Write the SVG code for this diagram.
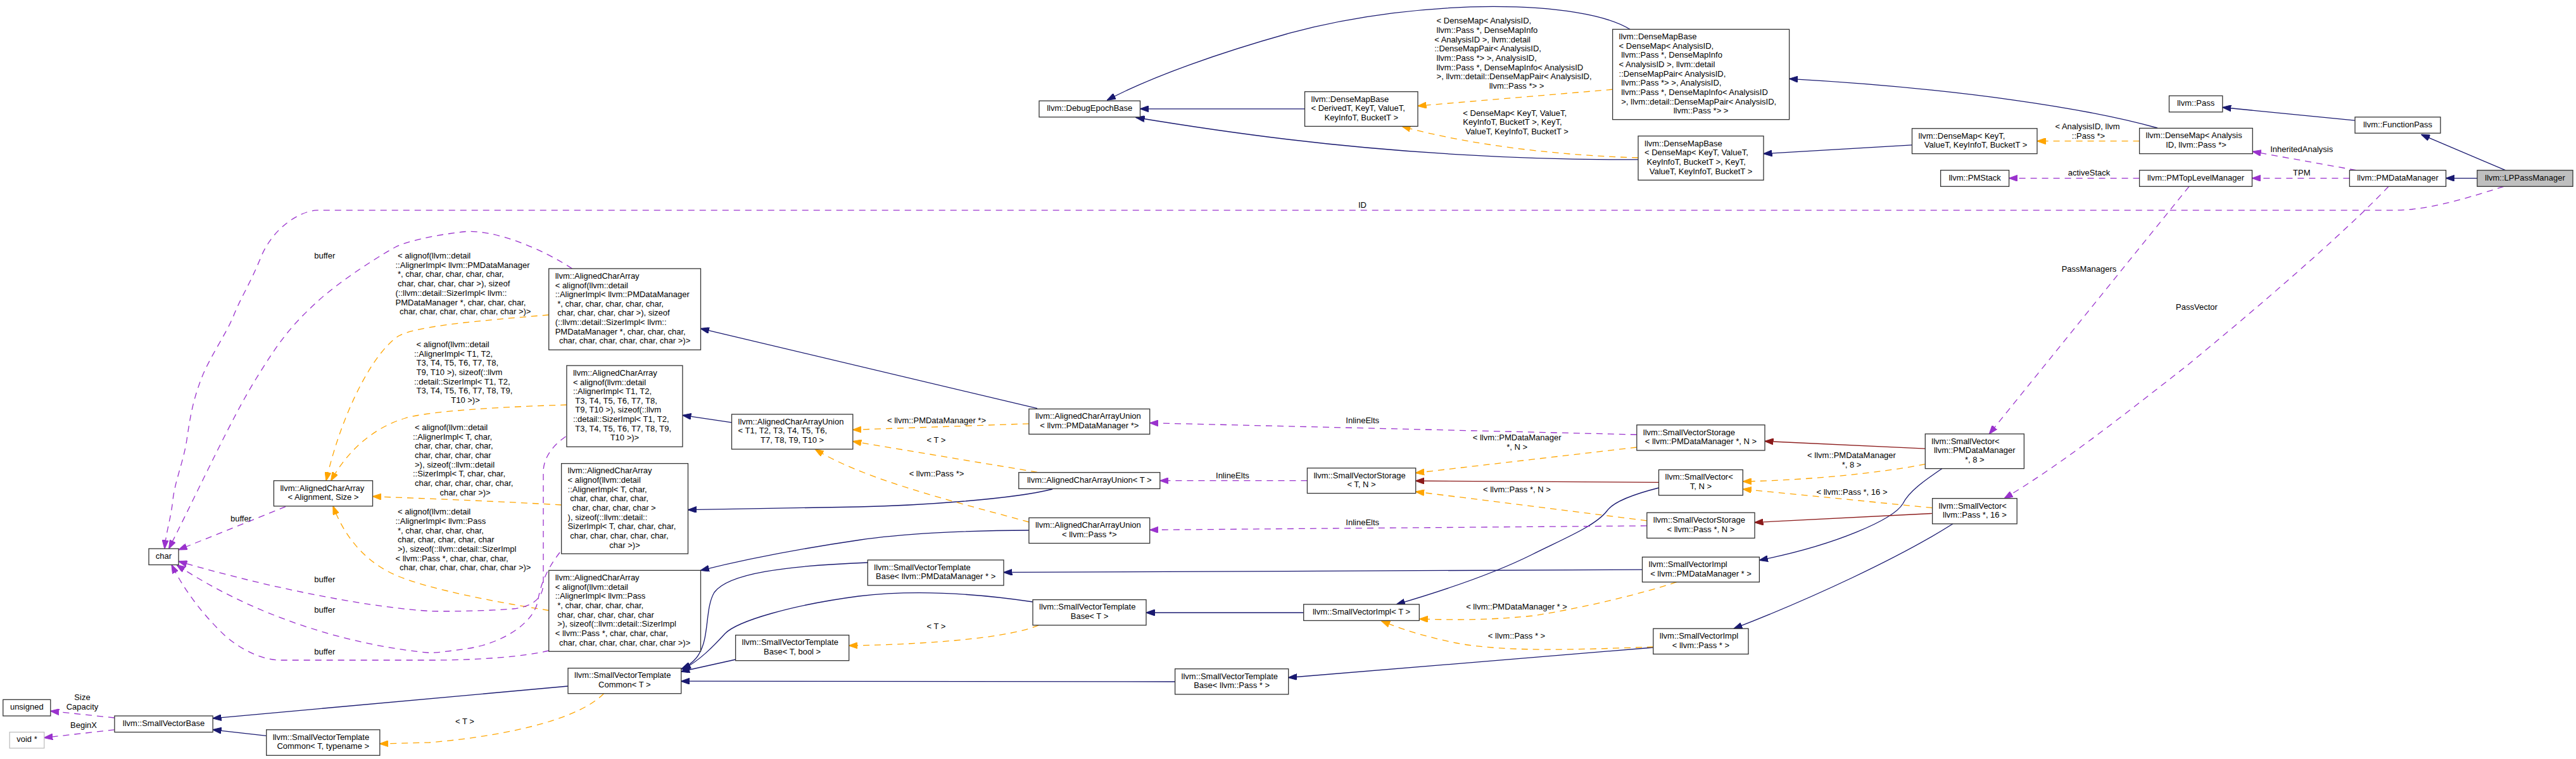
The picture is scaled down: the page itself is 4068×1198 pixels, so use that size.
<svg xmlns="http://www.w3.org/2000/svg" width="4068" height="1198" viewBox="0 0 4068 1198">
<style>
text{font-family:"Liberation Sans",Arial,Helvetica,sans-serif;font-size:13px;fill:#000;white-space:pre}
.m{text-anchor:middle}
.n rect{fill:#fff;stroke:#333;stroke-width:1.3}
.root rect{fill:#bfbfbf}
.ext rect{stroke:#bfbfbf}
#edges path{fill:none;stroke-width:1.3}
.inh{stroke:#191970;marker-end:url(#ah-inh)}
.prv{stroke:#8b1a1a;marker-end:url(#ah-prv)}
.use{stroke:#9a32cd;stroke-dasharray:10,8;marker-end:url(#ah-use)}
.tpl{stroke:#ffa500;stroke-dasharray:10,8;marker-end:url(#ah-tpl)}
</style>
<defs>
<marker id="ah-inh" viewBox="0 0 14 10" refX="13.5" refY="5" markerWidth="14" markerHeight="10" markerUnits="userSpaceOnUse" orient="auto"><path d="M0,0L14,5L0,10z" fill="#191970" stroke="#191970" stroke-dasharray="none"/></marker>
<marker id="ah-prv" viewBox="0 0 14 10" refX="13.5" refY="5" markerWidth="14" markerHeight="10" markerUnits="userSpaceOnUse" orient="auto"><path d="M0,0L14,5L0,10z" fill="#8b1a1a" stroke="#8b1a1a" stroke-dasharray="none"/></marker>
<marker id="ah-use" viewBox="0 0 14 10" refX="13.5" refY="5" markerWidth="14" markerHeight="10" markerUnits="userSpaceOnUse" orient="auto"><path d="M0,0L14,5L0,10z" fill="#9a32cd" stroke="#9a32cd" stroke-dasharray="none"/></marker>
<marker id="ah-tpl" viewBox="0 0 14 10" refX="13.5" refY="5" markerWidth="14" markerHeight="10" markerUnits="userSpaceOnUse" orient="auto"><path d="M0,0L14,5L0,10z" fill="#ffa500" stroke="#ffa500" stroke-dasharray="none"/></marker>
</defs>
<rect x="0" y="0" width="4068" height="1198" fill="#fff"/>

<g id="edges">
<path class="inh" d="M3956.4,268.7 L3823.7,212.4"/>
<path class="inh" d="M3912,281.3 L3862.6,281.3"/>
<path class="inh" d="M3719,190.2 L3509.8,169.5"/>
<path class="inh" d="M3407,202 C3300,172 3100,140 2825.6,124.4"/>
<path class="inh" d="M3019.5,228.8 L2785,242.6"/>
<path class="inh" d="M2574,46.3 C2500,0 2250,-5 2036,52.4 C1930,82 1820,120 1748.5,158"/>
<path class="inh" d="M2060.5,171.8 L1800.5,171.8"/>
<path class="inh" d="M2587,251.8 C2400,253 2200,240 2034,220 C1950,210 1870,198 1794,185.5"/>
<path class="inh" d="M1638,644.7 L1106.5,518.6"/>
<path class="inh" d="M1155.5,666.9 L1077.9,655.4"/>
<path class="inh" d="M1662,772 C1600,788 1450,798 1356,800 L1086.5,804.7"/>
<path class="inh" d="M1625,837 C1520,837 1420,843 1356,852.5 C1250,868 1180,882 1106.5,900.3"/>
<path class="inh" d="M1370.3,888 C1240,893 1150,905 1128,935 C1112,962 1122,1010 1100,1038 Q1090,1050 1076,1056"/>
<path class="inh" d="M1631,950 C1550,938 1450,930 1356,941 C1250,955 1165,980 1145,1000 C1125,1022 1105,1042 1078,1057"/>
<path class="inh" d="M1161.6,1041 L1075.7,1060"/>
<path class="inh" d="M1855.6,1076 L1075.7,1075.2"/>
<path class="inh" d="M897,1083 L336.1,1133.8"/>
<path class="inh" d="M420.7,1161.3 L336.1,1151.8"/>
<path class="inh" d="M2593.5,899.2 L1585,903.4"/>
<path class="inh" d="M2058.7,967 L1810,967"/>
<path class="inh" d="M2610.8,1022 L2034.7,1069.5"/>
<path class="inh" d="M2619.5,770 C2580,780 2548,792 2538,806 C2520,830 2470,850 2420,875 C2360,905 2280,932 2205.3,953.9"/>
<path class="inh" d="M3066.8,739.6 C3040,758 3015,775 3005,795 C2990,820 2900,860 2778.4,884.3"/>
<path class="inh" d="M3084,826.8 C3000,880 2860,945 2738,992.2"/>
<path class="prv" d="M2619.5,761.4 L2235.7,759"/>
<path class="prv" d="M3040.3,708.2 L2787,696.4"/>
<path class="prv" d="M3051.6,810.4 L2771,824.6"/>
<path class="tpl" d="M3378.6,222.7 L3217,222.7"/>
<path class="tpl" d="M2546.6,141.2 L2239,167.2"/>
<path class="tpl" d="M2587,249 C2480,246 2330,232 2214,199.4"/>
<path class="tpl" d="M866.7,497 C760,506 660,514 630,530 C590,555 540,650 515,758.7"/>
<path class="tpl" d="M894.9,639 C800,642 680,648 640,660 C590,675 550,710 522.6,758.7"/>
<path class="tpl" d="M886.6,797 C800,792 700,788 588.5,783.6"/>
<path class="tpl" d="M866.7,963.5 C780,950 680,930 630,910 C580,890 545,850 526,798.9"/>
<path class="tpl" d="M1624.9,668.8 L1346.8,678.4"/>
<path class="tpl" d="M1638,745.3 L1346.8,696.7"/>
<path class="tpl" d="M1624.9,824 C1500,790 1360,755 1287.3,709"/>
<path class="tpl" d="M1640,986.8 C1600,1005 1480,1017 1340.7,1019"/>
<path class="tpl" d="M953.4,1094.7 C920,1130 820,1160 678,1172 L599.8,1174"/>
<path class="tpl" d="M2584.8,706 L2235.7,746.5"/>
<path class="tpl" d="M2600.8,821.9 L2235.7,776"/>
<path class="tpl" d="M3040.3,732.7 C2960,748 2850,758 2752.3,760"/>
<path class="tpl" d="M3051.6,801.6 L2752.3,772"/>
<path class="tpl" d="M2647.7,918.7 C2600,935 2500,960 2420,972 C2340,980 2290,978 2241.3,977"/>
<path class="tpl" d="M2610.8,1021 C2500,1025 2380,1030 2300,1015 C2250,1005 2210,992 2181.5,980"/>
<path class="use" d="M3720.8,268.7 L3557.3,239.2"/>
<path class="use" d="M3710.4,281.3 L3556.5,281.3"/>
<path class="use" d="M3378.6,281.3 L3172.6,281.3"/>
<path class="use" d="M3457,294.3 L3141.4,684.9"/>
<path class="use" d="M3772,294.3 C3700,370 3560,490 3450,580 C3360,650 3260,730 3165.2,786.7"/>
<path class="use" d="M3954,294.3 C3880,318 3830,331.8 3780,331.8 L500,331.8 C470,334 430,362 412,406 S380,470 369,498 S330,565 317,600 S300,660 295,694 S276,760 273,789 S262,840 260,866"/>
<path class="use" d="M903.5,424 C860,395 780,360 730,366 C680,372 640,382 624.5,390 S540,440 499,478 S440,540 403,600 S320,760 266.7,866"/>
<path class="use" d="M451,799.7 L282,867.8"/>
<path class="use" d="M893.5,689 C870,705 858,725 858,745 L858,920 C858,945 840,958 810,961 C760,965 700,965 680,964.6 C600,960 450,935 282,886"/>
<path class="use" d="M884,872 C870,890 855,915 850,945 C845,985 790,1015 743,1023 C710,1028 690,1030 680,1030.5 C580,1022 420,985 279,891.5"/>
<path class="use" d="M866.7,1027 C830,1036 760,1042 680,1042 L440,1042 C410,1040 380,1025 355,1003 C320,970 290,930 271,891.5"/>
<path class="use" d="M2584.8,686 L1815.7,667.6"/>
<path class="use" d="M2064.4,758.7 L1831.8,758.7"/>
<path class="use" d="M2600.8,829.9 L1815.7,836.4"/>
<path class="use" d="M180.9,1133 L79.8,1122.3"/>
<path class="use" d="M180.9,1151.8 L69.8,1164.4"/>
</g>

<g id="edge-labels">
<text class="m" x="3634.7" y="240">InheritedAnalysis</text>
<text class="m" x="3634.8" y="277">TPM</text>
<text class="m" x="3469" y="489">PassVector</text>
<text class="m" x="2151.5" y="328">ID</text>
<text x="3245.4" y="203.5">&lt; AnalysisID, llvm</text>
<text class="m" x="3298" y="218.8">::Pass *&gt;</text>
<text class="m" x="3299" y="277">activeStack</text>
<text class="m" x="3299" y="429.3">PassManagers</text>
<text x="2268.6" y="37">&lt; DenseMap&lt; AnalysisID,</text>
<text x="2268.6" y="52">llvm::Pass *, DenseMapInfo</text>
<text x="2265.2" y="66.5">&lt; AnalysisID &gt;, llvm::detail</text>
<text x="2265.2" y="81">::DenseMapPair&lt; AnalysisID,</text>
<text x="2268.6" y="96">llvm::Pass *&gt; &gt;, AnalysisID,</text>
<text x="2268.6" y="110.5">llvm::Pass *, DenseMapInfo&lt; AnalysisID</text>
<text x="2268.6" y="125">&gt;, llvm::detail::DenseMapPair&lt; AnalysisID,</text>
<text class="m" x="2395" y="139.5">llvm::Pass *&gt; &gt;</text>
<text x="2310.3" y="182.8">&lt; DenseMap&lt; KeyT, ValueT,</text>
<text x="2310.3" y="197">KeyInfoT, BucketT &gt;, KeyT,</text>
<text class="m" x="2395.6" y="211.9">ValueT, KeyInfoT, BucketT &gt;</text>
<text class="m" x="512.8" y="408.2">buffer</text>
<text x="628" y="408.2">&lt; alignof(llvm::detail</text>
<text x="624.5" y="422.8">::AlignerImpl&lt; llvm::PMDataManager</text>
<text x="628" y="437.3">*, char, char, char, char, char,</text>
<text x="628" y="452.2">char, char, char, char &gt;), sizeof</text>
<text x="624.5" y="467.2">(::llvm::detail::SizerImpl&lt; llvm::</text>
<text x="624.5" y="481.7">PMDataManager *, char, char, char,</text>
<text class="m" x="734.7" y="496.3">char, char, char, char, char, char &gt;)&gt;</text>
<text x="657.5" y="547.9">&lt; alignof(llvm::detail</text>
<text x="654" y="562.6">::AlignerImpl&lt; T1, T2,</text>
<text x="657.5" y="577.2">T3, T4, T5, T6, T7, T8,</text>
<text x="657.5" y="591.9">T9, T10 &gt;), sizeof(::llvm</text>
<text x="654" y="606.5">::detail::SizerImpl&lt; T1, T2,</text>
<text x="657.5" y="621.2">T3, T4, T5, T6, T7, T8, T9,</text>
<text class="m" x="735" y="635.9">T10 &gt;)&gt;</text>
<text x="655" y="679">&lt; alignof(llvm::detail</text>
<text x="652" y="693.7">::AlignerImpl&lt; T, char,</text>
<text x="655" y="708.3">char, char, char, char,</text>
<text x="655" y="723">char, char, char, char</text>
<text x="655" y="737.6">&gt;), sizeof(::llvm::detail</text>
<text x="652" y="752.3">::SizerImpl&lt; T, char, char,</text>
<text x="655" y="767">char, char, char, char, char,</text>
<text class="m" x="734.6" y="781.6">char, char &gt;)&gt;</text>
<text x="628" y="812.2">&lt; alignof(llvm::detail</text>
<text x="624.5" y="826.9">::AlignerImpl&lt; llvm::Pass</text>
<text x="628" y="841.5">*, char, char, char, char,</text>
<text x="628" y="856.2">char, char, char, char, char</text>
<text x="628" y="870.8">&gt;), sizeof(::llvm::detail::SizerImpl</text>
<text x="624.5" y="885.5">&lt; llvm::Pass *, char, char, char,</text>
<text class="m" x="734.7" y="900.2">char, char, char, char, char, char &gt;)&gt;</text>
<text class="m" x="380.5" y="823">buffer</text>
<text class="m" x="512.8" y="919">buffer</text>
<text class="m" x="512.8" y="966.8">buffer</text>
<text class="m" x="512.8" y="1033">buffer</text>
<text class="m" x="734" y="1143.2">&lt; T &gt;</text>
<text class="m" x="130" y="1105">Size</text>
<text class="m" x="130" y="1120.3">Capacity</text>
<text class="m" x="132" y="1149">BeginX</text>
<text class="m" x="1479" y="667.5">&lt; llvm::PMDataManager *&gt;</text>
<text class="m" x="1478.4" y="699.3">&lt; T &gt;</text>
<text class="m" x="1479" y="752.1">&lt; llvm::Pass *&gt;</text>
<text class="m" x="1946.4" y="754.8">InlineElts</text>
<text class="m" x="1478.4" y="992.8">&lt; T &gt;</text>
<text class="m" x="2151.7" y="667.9">InlineElts</text>
<text class="m" x="2151.7" y="828.7">InlineElts</text>
<text class="m" x="2395.7" y="695.1">&lt; llvm::PMDataManager</text>
<text class="m" x="2395.7" y="709.7">*, N &gt;</text>
<text class="m" x="2395.4" y="777.4">&lt; llvm::Pass *, N &gt;</text>
<text class="m" x="2395" y="961.5">&lt; llvm::PMDataManager * &gt;</text>
<text class="m" x="2395" y="1007.5">&lt; llvm::Pass * &gt;</text>
<text class="m" x="2924" y="723">&lt; llvm::PMDataManager</text>
<text class="m" x="2924" y="737.5">*, 8 &gt;</text>
<text class="m" x="2924.5" y="780.5">&lt; llvm::Pass *, 16 &gt;</text>
</g>

<g id="n_lp" class="n root"><rect x="3912" y="268.7" width="151" height="25.6"/><text class="m" x="3987.5" y="284.5">llvm::LPPassManager</text></g>
<g id="n_fp" class="n"><rect x="3719" y="184.8" width="135" height="25.4"/><text class="m" x="3786.5" y="200.6">llvm::FunctionPass</text></g>
<g id="n_pass" class="n"><rect x="3425.5" y="151.2" width="84.3" height="25.6"/><text class="m" x="3467.6" y="167">llvm::Pass</text></g>
<g id="n_pmdm" class="n"><rect x="3710.4" y="268.7" width="152.2" height="25.6"/><text class="m" x="3786.5" y="284.5">llvm::PMDataManager</text></g>
<g id="n_pmtlm" class="n"><rect x="3378.6" y="268.7" width="177.9" height="25.6"/><text class="m" x="3467.5" y="284.5">llvm::PMTopLevelManager</text></g>
<g id="n_dmap_aid" class="n"><rect x="3378.6" y="202.4" width="178.7" height="40.2"/><text x="3388.6" y="218.2">llvm::DenseMap&lt; Analysis</text><text class="m" x="3468" y="232.9">ID, llvm::Pass *&gt;</text></g>
<g id="n_pmstack" class="n"><rect x="3064.6" y="268.7" width="108" height="25.6"/><text class="m" x="3118.6" y="284.5">llvm::PMStack</text></g>
<g id="n_dmap_kt" class="n"><rect x="3019.5" y="202.8" width="197.5" height="39.8"/><text x="3029.5" y="218.6">llvm::DenseMap&lt; KeyT,</text><text class="m" x="3118.3" y="233.3"> ValueT, KeyInfoT, BucketT &gt;</text></g>
<g id="n_dmb_big" class="n"><rect x="2546.6" y="46.3" width="279" height="142.4"/>
<text x="2556.6" y="62.1">llvm::DenseMapBase</text>
<text x="2556.6" y="76.8">&lt; DenseMap&lt; AnalysisID,</text>
<text x="2556.6" y="91.4"> llvm::Pass *, DenseMapInfo</text>
<text x="2556.6" y="106.1">&lt; AnalysisID &gt;, llvm::detail</text>
<text x="2556.6" y="120.7">::DenseMapPair&lt; AnalysisID,</text>
<text x="2556.6" y="135.4"> llvm::Pass *&gt; &gt;, AnalysisID,</text>
<text x="2556.6" y="150.1"> llvm::Pass *, DenseMapInfo&lt; AnalysisID</text>
<text x="2556.6" y="164.7"> &gt;, llvm::detail::DenseMapPair&lt; AnalysisID,</text>
<text class="m" x="2686.1" y="179.4">llvm::Pass *&gt; &gt;</text></g>
<g id="n_dmb_kt" class="n"><rect x="2587" y="214.7" width="198" height="69.6"/>
<text x="2597" y="230.5">llvm::DenseMapBase</text>
<text x="2597" y="245.2">&lt; DenseMap&lt; KeyT, ValueT,</text>
<text x="2597" y="259.8"> KeyInfoT, BucketT &gt;, KeyT,</text>
<text class="m" x="2686" y="274.5">ValueT, KeyInfoT, BucketT &gt;</text></g>
<g id="n_dmb_der" class="n"><rect x="2060.5" y="144.7" width="178.5" height="54.7"/>
<text x="2070.5" y="160.5">llvm::DenseMapBase</text>
<text x="2070.5" y="175.2">&lt; DerivedT, KeyT, ValueT,</text>
<text class="m" x="2149.75" y="189.8">KeyInfoT, BucketT &gt;</text></g>
<g id="n_debug" class="n"><rect x="1641" y="159.2" width="159.5" height="25.6"/><text class="m" x="1720.75" y="175">llvm::DebugEpochBase</text></g>
<g id="n_aca_pmdm" class="n"><rect x="866.7" y="424" width="239.8" height="128.2"/>
<text x="876.7" y="439.8">llvm::AlignedCharArray</text>
<text x="876.7" y="454.5">&lt; alignof(llvm::detail</text>
<text x="876.7" y="469.1">::AlignerImpl&lt; llvm::PMDataManager</text>
<text x="876.7" y="483.8"> *, char, char, char, char, char,</text>
<text x="876.7" y="498.4"> char, char, char, char &gt;), sizeof</text>
<text x="876.7" y="513.1">(::llvm::detail::SizerImpl&lt; llvm::</text>
<text x="876.7" y="527.8">PMDataManager *, char, char, char,</text>
<text class="m" x="986.6" y="542.4">char, char, char, char, char, char &gt;)&gt;</text></g>
<g id="n_aca_t1" class="n"><rect x="894.9" y="577" width="183" height="128.2"/>
<text x="904.9" y="592.8">llvm::AlignedCharArray</text>
<text x="904.9" y="607.5">&lt; alignof(llvm::detail</text>
<text x="904.9" y="622.1">::AlignerImpl&lt; T1, T2,</text>
<text x="904.9" y="636.8"> T3, T4, T5, T6, T7, T8,</text>
<text x="904.9" y="651.4"> T9, T10 &gt;), sizeof(::llvm</text>
<text x="904.9" y="666.1">::detail::SizerImpl&lt; T1, T2,</text>
<text x="904.9" y="680.8"> T3, T4, T5, T6, T7, T8, T9,</text>
<text class="m" x="986.4" y="695.4">T10 &gt;)&gt;</text></g>
<g id="n_aca_tchar" class="n"><rect x="886.6" y="731.6" width="199.9" height="142.4"/>
<text x="896.6" y="747.4">llvm::AlignedCharArray</text>
<text x="896.6" y="762.1">&lt; alignof(llvm::detail</text>
<text x="896.6" y="776.7">::AlignerImpl&lt; T, char,</text>
<text x="896.6" y="791.4"> char, char, char, char,</text>
<text x="896.6" y="806">  char, char, char, char &gt;</text>
<text x="896.6" y="820.7">), sizeof(::llvm::detail::</text>
<text x="896.6" y="835.4">SizerImpl&lt; T, char, char, char,</text>
<text x="896.6" y="850"> char, char, char, char, char,</text>
<text class="m" x="986.55" y="864.7">char &gt;)&gt;</text></g>
<g id="n_aca_pass" class="n"><rect x="866.7" y="900.3" width="239.8" height="127.9"/>
<text x="876.7" y="916.1">llvm::AlignedCharArray</text>
<text x="876.7" y="930.8">&lt; alignof(llvm::detail</text>
<text x="876.7" y="945.4">::AlignerImpl&lt; llvm::Pass</text>
<text x="876.7" y="960.1"> *, char, char, char, char,</text>
<text x="876.7" y="974.7"> char, char, char, char, char</text>
<text x="876.7" y="989.4"> &gt;), sizeof(::llvm::detail::SizerImpl</text>
<text x="876.7" y="1004.1">&lt; llvm::Pass *, char, char, char,</text>
<text class="m" x="986.6" y="1018.7">char, char, char, char, char, char &gt;)&gt;</text></g>
<g id="n_svtc_t" class="n"><rect x="897" y="1054.6" width="178.7" height="40.1"/><text x="907" y="1070.4">llvm::SmallVectorTemplate</text><text class="m" x="986.35" y="1085.1">Common&lt; T &gt;</text></g>
<g id="n_acau_t1" class="n"><rect x="1155.5" y="653.9" width="191.3" height="55.1"/><text x="1165.5" y="669.7">llvm::AlignedCharArrayUnion</text><text x="1165.5" y="684.4">&lt; T1, T2, T3, T4, T5, T6,</text><text class="m" x="1251.15" y="699">T7, T8, T9, T10 &gt;</text></g>
<g id="n_svtb_tbool" class="n"><rect x="1161.6" y="1002.5" width="179.1" height="40.2"/><text x="1171.6" y="1018.3">llvm::SmallVectorTemplate</text><text class="m" x="1251.15" y="1033">Base&lt; T, bool &gt;</text></g>
<g id="n_acau_pmdm" class="n"><rect x="1624.9" y="645.5" width="190.8" height="39.8"/><text x="1634.9" y="661.3">llvm::AlignedCharArrayUnion</text><text class="m" x="1720.3" y="676">&lt; llvm::PMDataManager *&gt;</text></g>
<g id="n_acau_t" class="n"><rect x="1608.8" y="745.7" width="223" height="25.7"/><text class="m" x="1720.3" y="761.5">llvm::AlignedCharArrayUnion&lt; T &gt;</text></g>
<g id="n_acau_pass" class="n"><rect x="1624.9" y="817.3" width="190.8" height="40.2"/><text x="1634.9" y="833.1">llvm::AlignedCharArrayUnion</text><text class="m" x="1720.3" y="847.8">&lt; llvm::Pass *&gt;</text></g>
<g id="n_svtb_pmdm" class="n"><rect x="1370.3" y="883.9" width="214.7" height="40.1"/><text x="1380.3" y="899.7">llvm::SmallVectorTemplate</text><text class="m" x="1477.65" y="914.4">Base&lt; llvm::PMDataManager * &gt;</text></g>
<g id="n_svtb_t" class="n"><rect x="1631" y="946.6" width="179" height="40.2"/><text x="1641" y="962.4">llvm::SmallVectorTemplate</text><text class="m" x="1720.5" y="977.1">Base&lt; T &gt;</text></g>
<g id="n_svtb_pass" class="n"><rect x="1855.6" y="1055.7" width="179.1" height="40.2"/><text x="1865.6" y="1071.5">llvm::SmallVectorTemplate</text><text class="m" x="1945.15" y="1086.2">Base&lt; llvm::Pass * &gt;</text></g>
<g id="n_svs_t" class="n"><rect x="2064.4" y="738.8" width="171.3" height="39.8"/><text x="2074.4" y="754.6">llvm::SmallVectorStorage</text><text class="m" x="2150.05" y="769.3">&lt; T, N &gt;</text></g>
<g id="n_svi_t" class="n"><rect x="2058.7" y="953.9" width="182.6" height="25.6"/><text class="m" x="2150" y="969.7">llvm::SmallVectorImpl&lt; T &gt;</text></g>
<g id="n_svs_pmdm" class="n"><rect x="2584.8" y="670.7" width="202.2" height="40.2"/><text x="2594.8" y="686.5">llvm::SmallVectorStorage</text><text class="m" x="2685.9" y="701.2">&lt; llvm::PMDataManager *, N &gt;</text></g>
<g id="n_sv_tn" class="n"><rect x="2619.5" y="741.5" width="132.8" height="40.2"/><text x="2629.5" y="757.3">llvm::SmallVector&lt;</text><text class="m" x="2685.9" y="772">T, N &gt;</text></g>
<g id="n_svs_pass" class="n"><rect x="2600.8" y="809.2" width="170.2" height="40.2"/><text x="2610.8" y="825">llvm::SmallVectorStorage</text><text class="m" x="2685.9" y="839.7">&lt; llvm::Pass *, N &gt;</text></g>
<g id="n_svi_pmdm" class="n"><rect x="2593.5" y="879.3" width="184.9" height="39.4"/><text x="2603.5" y="895.1">llvm::SmallVectorImpl</text><text class="m" x="2686" y="909.8">&lt; llvm::PMDataManager * &gt;</text></g>
<g id="n_svi_pass" class="n"><rect x="2610.8" y="992.2" width="150.2" height="40.2"/><text x="2620.8" y="1008">llvm::SmallVectorImpl</text><text class="m" x="2685.9" y="1022.7">&lt; llvm::Pass * &gt;</text></g>
<g id="n_sv_pmdm8" class="n"><rect x="3040.3" y="684.9" width="156.1" height="54.7"/><text x="3050.3" y="700.7">llvm::SmallVector&lt;</text><text x="3050.3" y="715.4"> llvm::PMDataManager</text><text class="m" x="3118.35" y="730">*, 8 &gt;</text></g>
<g id="n_sv_pass16" class="n"><rect x="3051.6" y="786.7" width="133.6" height="40.1"/><text x="3061.6" y="802.5">llvm::SmallVector&lt;</text><text class="m" x="3118.4" y="817.2">llvm::Pass *, 16 &gt;</text></g>
<g id="n_char" class="n"><rect x="235" y="866" width="47" height="25.5"/><text class="m" x="258.5" y="881.8">char</text></g>
<g id="n_aca_as" class="n"><rect x="432.4" y="758.7" width="156.1" height="40.2"/><text x="442.4" y="774.5">llvm::AlignedCharArray</text><text class="m" x="510.45" y="789.2">&lt; Alignment, Size &gt;</text></g>
<g id="n_unsigned" class="n"><rect x="4.8" y="1104.3" width="75" height="25.7"/><text class="m" x="42.3" y="1120.1">unsigned</text></g>
<g id="n_void" class="n ext"><rect x="15.2" y="1155.6" width="54.6" height="25.3"/><text class="m" x="42.5" y="1171.4">void *</text></g>
<g id="n_svb" class="n"><rect x="180.9" y="1130" width="155.2" height="25.6"/><text class="m" x="258.5" y="1145.8">llvm::SmallVectorBase</text></g>
<g id="n_svtc_tt" class="n"><rect x="420.7" y="1151.8" width="179.1" height="40.5"/><text x="430.7" y="1167.6">llvm::SmallVectorTemplate</text><text class="m" x="510.25" y="1182.3">Common&lt; T, typename &gt;</text></g>
</svg>
